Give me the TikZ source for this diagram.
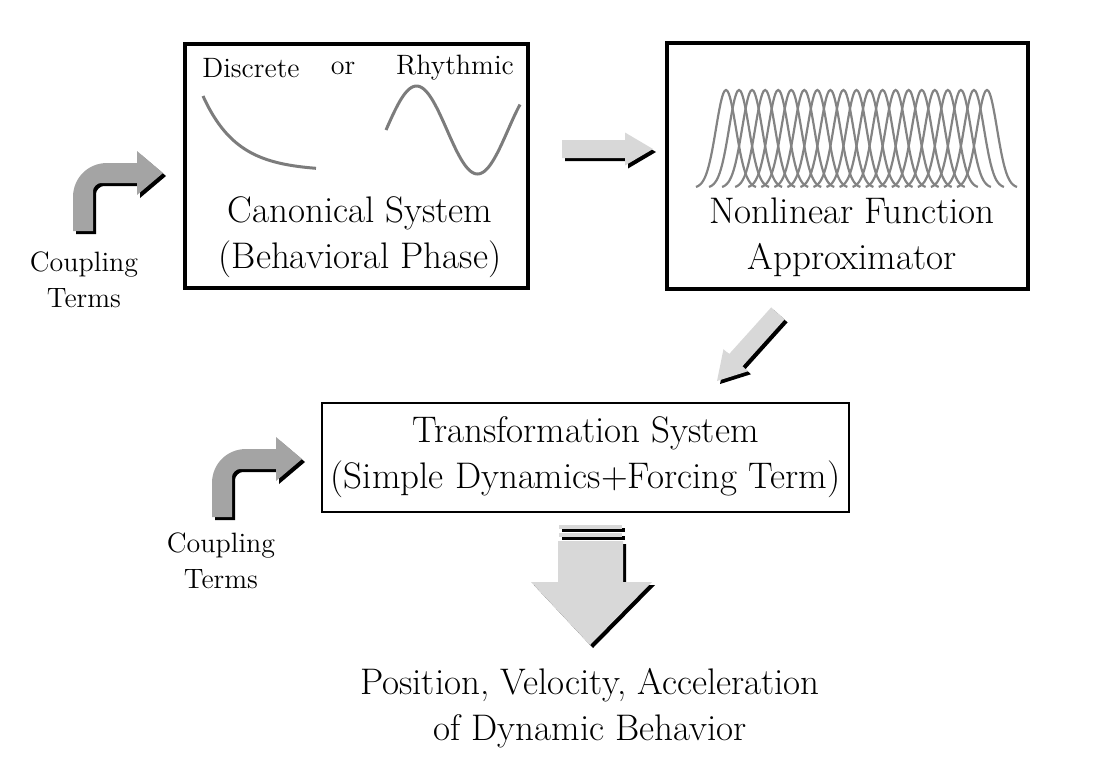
\documentclass[tikz,border=0pt]{standalone}

\definecolor{lightarrow}{HTML}{D8D8D8}
\definecolor{darkarrow}{HTML}{A4A4A4}
\definecolor{curvegray}{HTML}{7C7C7C}

\tikzset{
  box/.style={draw, line width=1.6pt, inner sep=0pt},
  bigtext/.style={font=\fontsize{18.5}{23}\selectfont, align=center},
  smalltext/.style={font=\fontsize{14}{18}\selectfont, align=center},
  curve/.style={curvegray, line width=1.5pt},
  pics/flatarrow/.style={code={
    \fill[black, shift={(3,3)}, rotate=#1] (-91,-9) -- (-28,-9) -- (-28,-16.5) -- (0,0) -- (-28,16.5) -- (-28,9) -- (-91,9) -- cycle;
    \fill[lightarrow, rotate=#1] (-91,-9) -- (-28,-9) -- (-28,-16.5) -- (0,0) -- (-28,16.5) -- (-28,9) -- (-91,9) -- cycle;
  }},
  pics/bentarrow/.style={code={
    \fill[black, shift={(3,3)}] (-90,58) -- (-90,24) .. controls (-90,5) and (-75,-10) .. (-56,-10) -- (-26,-10) -- (-26,-22) -- (0,0) -- (-26,22) -- (-26,10) -- (-62,10) .. controls (-66,10) and (-70,14) .. (-70,18) -- (-70,58) -- cycle;
    \fill[darkarrow] (-90,58) -- (-90,24) .. controls (-90,5) and (-75,-10) .. (-56,-10) -- (-26,-10) -- (-26,-22) -- (0,0) -- (-26,22) -- (-26,10) -- (-62,10) .. controls (-66,10) and (-70,14) .. (-70,18) -- (-70,58) -- cycle;
  }}
}

\begin{document}
\begin{tikzpicture}[x=0.5pt, y=-0.5pt]
  \useasboundingbox (0,0) rectangle (1104,757);

  % canonical system
  \node[box, minimum width=171.5pt, minimum height=122pt] (canonbox) at (356.5,166) {};
  \node[smalltext] (discrete) at (251,68) {Discrete};
  \node[smalltext] (or) at (343,68) {or};
  \node[smalltext] (rhythmic) at (455,68) {Rhythmic};
  \draw[curve, domain=203:316, samples=60, smooth] plot (\x, {171 - 75*exp(-(\x-203)/34)});
  \draw[curve, domain=386:520, samples=80, smooth] plot (\x, {130 - 44*sin((\x-386)/122*360)});
  \node[bigtext] (canontext) at (360,237) {Canonical System\\(Behavioral Phase)};

  % function approximator
  \node[box, minimum width=180.5pt, minimum height=123pt] (nlfbox) at (847.5,166) {};
  \foreach \i in {0,...,20}
    \draw[curvegray!95, line width=1.1pt, domain=-30:30, samples=41, smooth]
      plot ({726 + 13.05*\i + \x}, {188 - 98*exp(-\x*\x/200)});
  \node[bigtext] (nlftext) at (852,237) {Nonlinear Function\\Approximator};

  % transformation system
  \node[box, line width=1.4pt, bigtext, minimum width=263.5pt, minimum height=54.5pt] (transbox) at (585.5,457.5)
    {Transformation System\\(Simple Dynamics+Forcing Term)};

  \node[bigtext] (output) at (590,708) {Position, Velocity, Acceleration\\of Dynamic Behavior};

  % coupling terms
  \node[smalltext] (coupA) at (84,280) {Coupling\\Terms};
  \node[smalltext] (coupB) at (221,561) {Coupling\\Terms};
  \pic at (163,173) {bentarrow};
  \pic at (302,459) {bentarrow};

  % flow arrows
  \pic at (653,149) {flatarrow=0};
  \pic at (717,381) {flatarrow=228};

  \begin{scope}[shift={(3,3)}]
    \fill (559,525) rectangle (622,529);
    \fill (559,533) rectangle (622,537);
    \fill (558,541) -- (623,541) -- (623,582) -- (652,582) -- (590,645) -- (531,582) -- (558,582) -- cycle;
  \end{scope}
  \fill[lightarrow] (559,525) rectangle (622,529);
  \fill[lightarrow] (559,533) rectangle (622,537);
  \fill[lightarrow] (558,541) -- (623,541) -- (623,582) -- (652,582) -- (590,645) -- (531,582) -- (558,582) -- cycle;
\end{tikzpicture}
\end{document}
